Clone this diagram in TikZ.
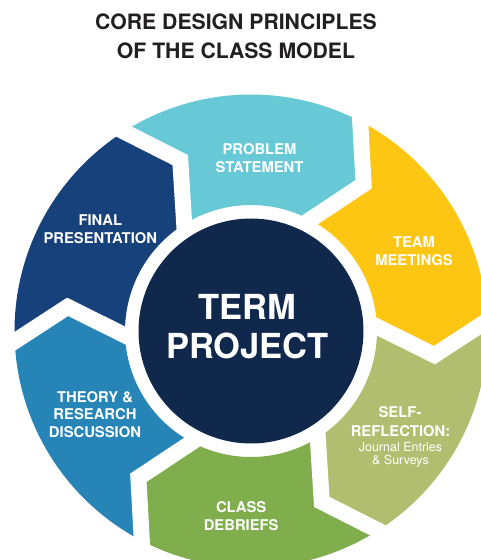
\documentclass[tikz,border=0pt]{standalone}
\usepackage{fontspec}
\setmainfont{TeX Gyre Heros}
\usetikzlibrary{calc}
\definecolor{cteal}{HTML}{67C9D5}
\definecolor{cyellow}{HTML}{FDC613}
\definecolor{colive}{HTML}{B2BE6F}
\definecolor{cgreen}{HTML}{80AE4C}
\definecolor{cblue}{HTML}{2685B6}
\definecolor{cdark}{HTML}{17417A}
\definecolor{cnavy}{HTML}{11284D}
\definecolor{ctitle}{HTML}{231F20}
\begin{document}
\begin{tikzpicture}[x=1pt,y=1pt,
  titletext/.style={anchor=base,text=ctitle,font=\fontsize{21.2}{25}\selectfont\bfseries,inner sep=0pt},
  segtext/.style={anchor=base,text=white,font=\fontsize{14.8}{17}\selectfont\bfseries,inner sep=0pt},
  smalltext/.style={anchor=base,text=white,font=\fontsize{12.5}{14}\selectfont,inner sep=0pt},
  bigtext/.style={anchor=base,text=white,font=\fontsize{34.5}{38}\selectfont\bfseries,inner sep=0pt},
  gap/.style={draw=white,line width=16pt,line join=miter}]
\useasboundingbox (0,0) rectangle (480,560);
\fill[white] (0,0) rectangle (480,560);
\begin{scope}[shift={(251,229)}]
  \foreach \a/\c in {180/cdark,120/cteal,60/cyellow,0/colive,-60/cgreen,-120/cblue}{
    \pgfmathsetmacro\b{\a-60}
    \fill[\c] ({\a+2.5}:236.5) arc[start angle=\a+2.5, end angle=\b+2.5, radius=236.5]
      -- ({\b-7.5}:185) -- ({\b+2}:126)
      arc[start angle=\b+2, end angle=\a+2, radius=126]
      -- ({\a-7.5}:185) -- cycle;
  }
  \foreach \b in {180,120,60,0,-60,-120}{
    \coordinate (m) at ({\b-7.5}:185);
    \coordinate (o) at ({\b+2.5}:236.5);
    \coordinate (i) at ({\b+2}:126);
    \draw[gap] ($(m)!1.6!(o)$) -- (m) -- ($(m)!1.4!(i)$);
  }
  \fill[cnavy] (0,0) circle[radius=112.5];
\end{scope}
% title
\node[titletext] (t1) at (236,530) {CORE DESIGN PRINCIPLES};
\node[titletext] (t2) at (236,501.7) {OF THE CLASS MODEL};
% centre
\node[bigtext] (c1) at (247.5,240) {TERM};
\node[bigtext] (c2) at (247.5,201.7) {PROJECT};
% segment labels
\node[segtext] (p1) at (259.5,405) {PROBLEM};
\node[segtext] (p2) at (259.5,387.7) {STATEMENT};
\node[segtext] (tm1) at (414,312.5) {TEAM};
\node[segtext] (tm2) at (414,294.8) {MEETINGS};
\node[segtext] (s1) at (400,142) {SELF-};
\node[segtext] (s2) at (400.5,123.8) {REFLECTION:};
\node[smalltext] (s3) at (400.5,108.8) {Journal Entries};
\node[smalltext] (s4) at (400.5,95.3) {\& Surveys};
\node[segtext] (cd1) at (241.2,47.3) {CLASS};
\node[segtext] (cd2) at (241.2,30) {DEBRIEFS};
\node[segtext] (th1) at (95,157.7) {THEORY \&};
\node[segtext] (th2) at (95,140) {RESEARCH};
\node[segtext] (th3) at (95,122.3) {DISCUSSION};
\node[segtext] (f1) at (100.3,334.3) {FINAL};
\node[segtext] (f2) at (100.3,316.7) {PRESENTATION};
\end{tikzpicture}
\end{document}
